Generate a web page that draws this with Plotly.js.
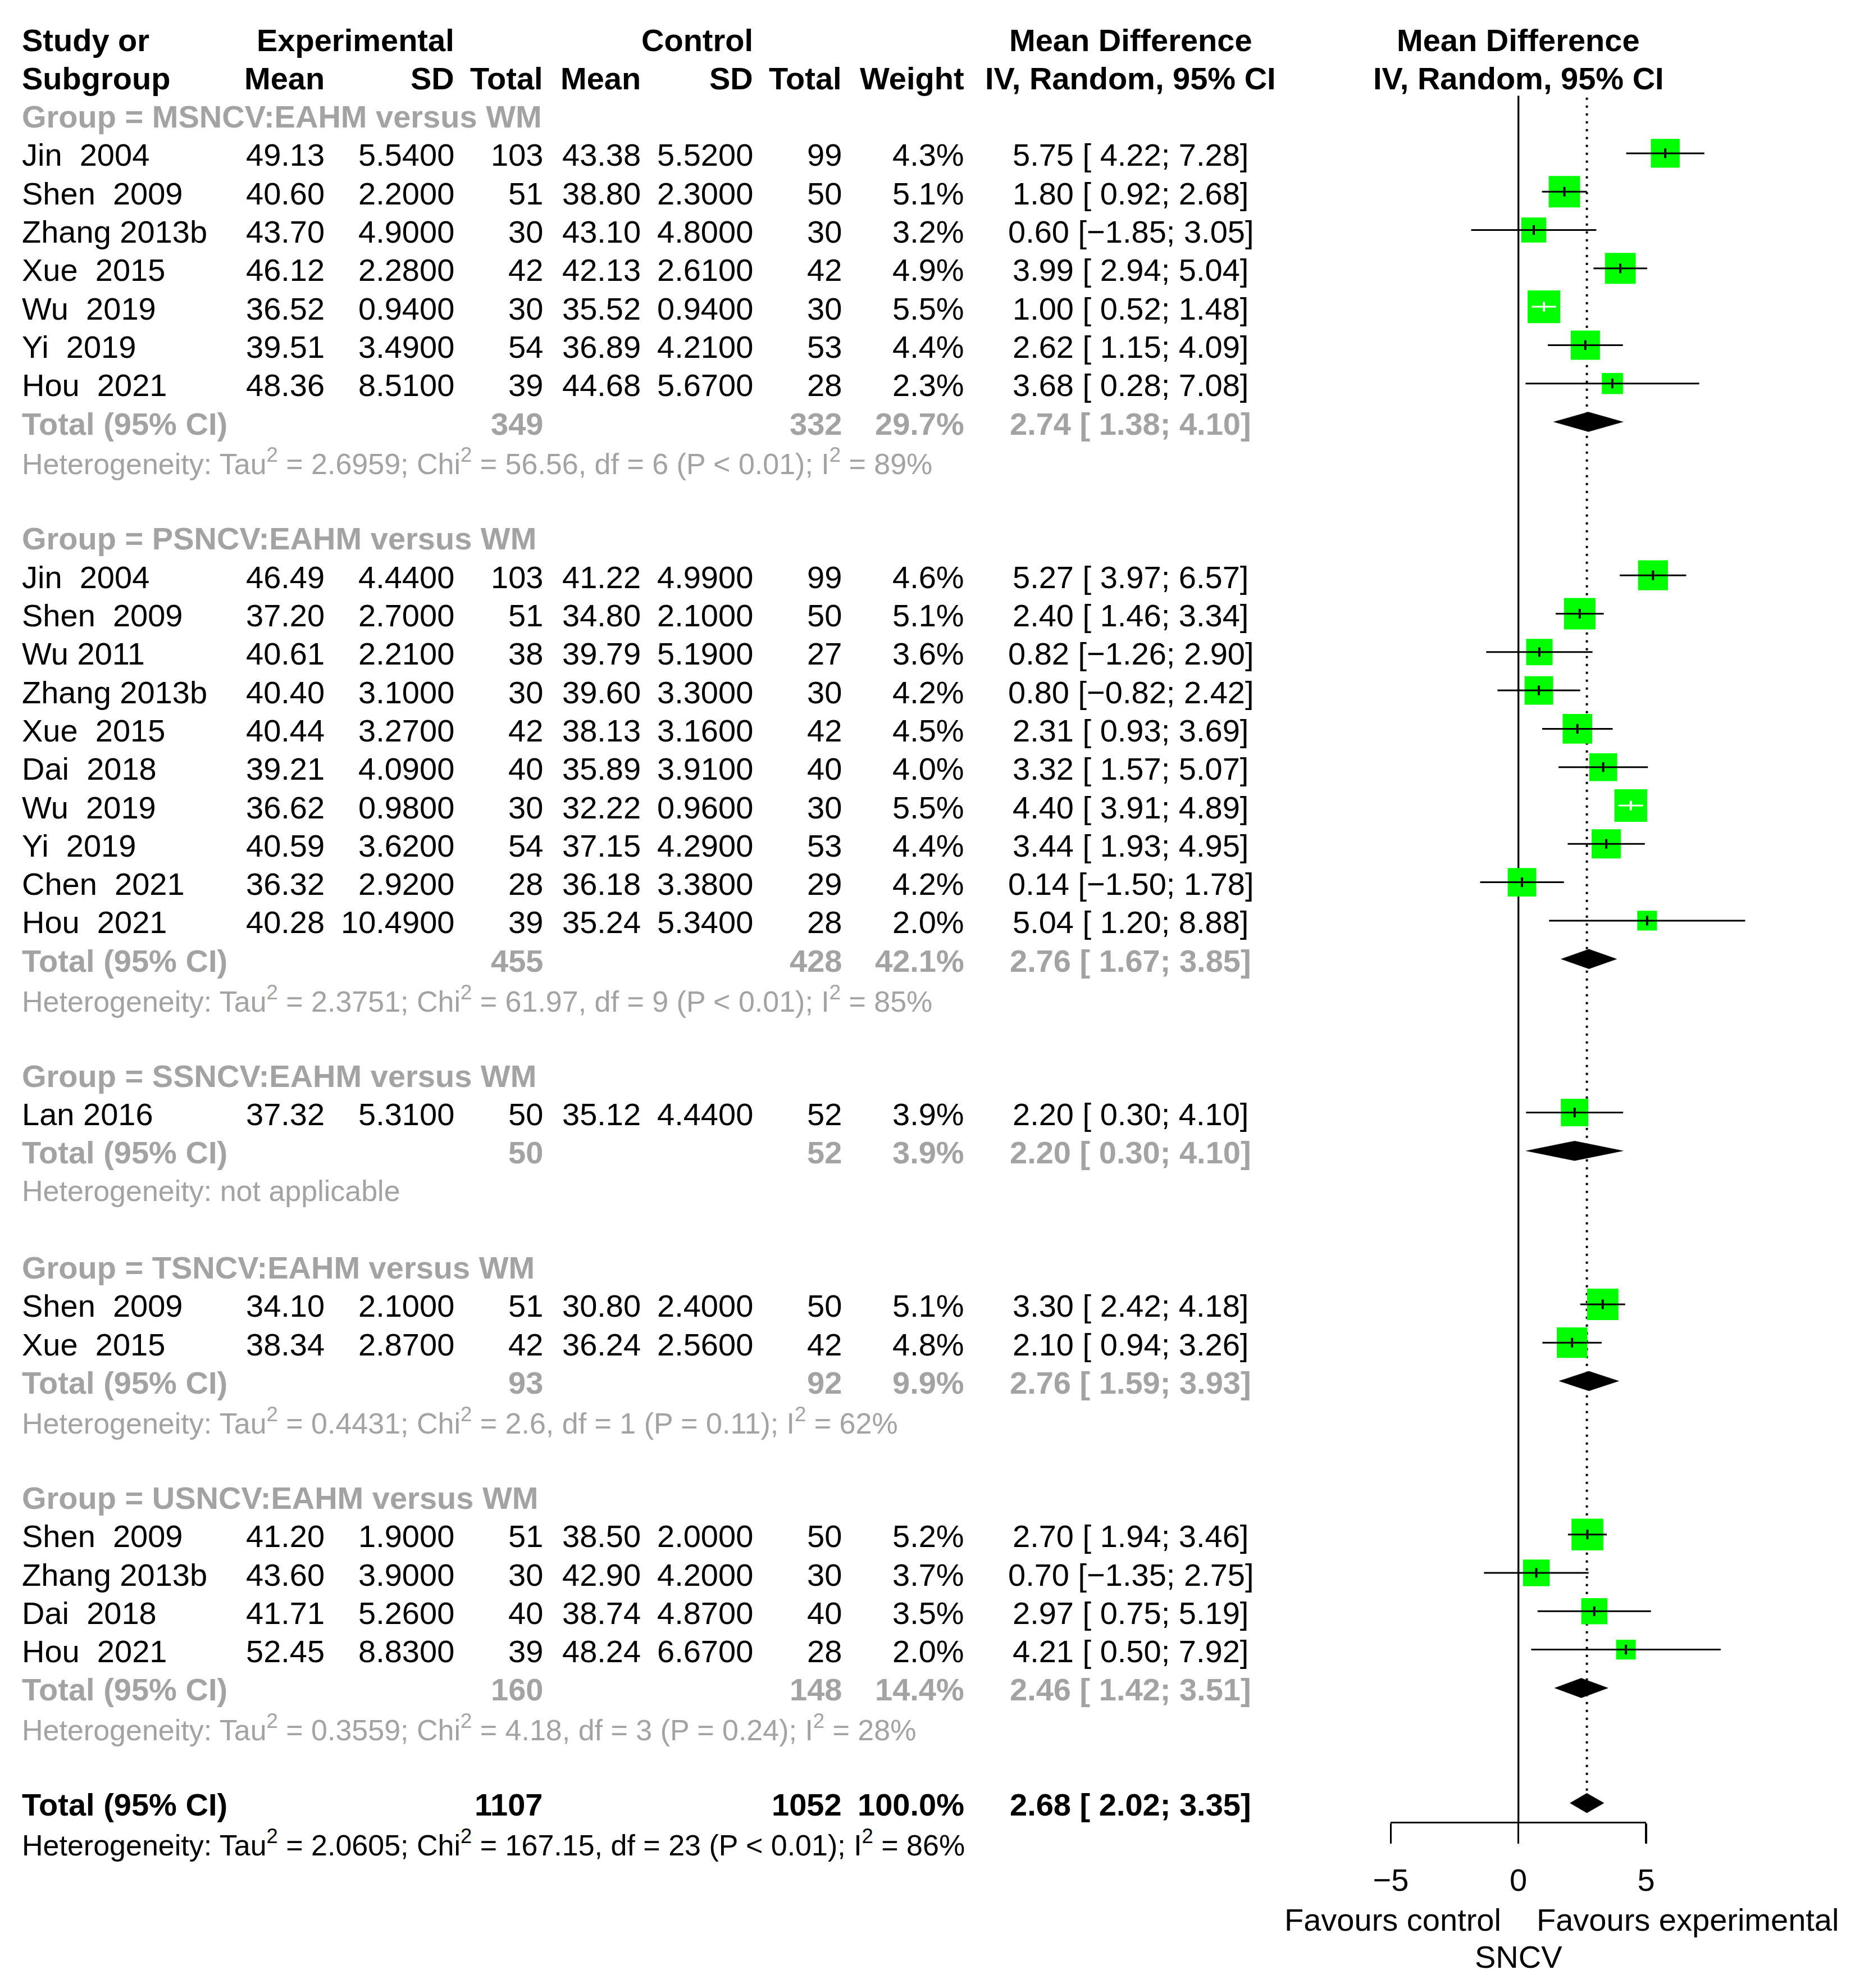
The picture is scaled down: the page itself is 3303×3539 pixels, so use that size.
<!DOCTYPE html>
<html><head><meta charset="utf-8">
<script src="https://cdn.plot.ly/plotly-3.0.1.min.js"></script>
<style>html,body{margin:0;padding:0;background:#fff}</style>
</head><body>
<div id="chart" style="width:3303px;height:3539px"></div>
<script>
// ---------------- DATA ----------------
const groupNames = ["MSNCV:EAHM versus WM", "PSNCV:EAHM versus WM", "SSNCV:EAHM versus WM", "TSNCV:EAHM versus WM", "USNCV:EAHM versus WM"];
const studyGroup = [0,0,0,0,0,0,0, 1,1,1,1,1,1,1,1,1,1, 2, 3,3, 4,4,4,4];
const studyLabels = ["Jin\u00a0 2004","Shen\u00a0 2009","Zhang 2013b","Xue\u00a0 2015","Wu\u00a0 2019","Yi\u00a0 2019","Hou\u00a0 2021",
  "Jin\u00a0 2004","Shen\u00a0 2009","Wu 2011","Zhang 2013b","Xue\u00a0 2015","Dai\u00a0 2018","Wu\u00a0 2019","Yi\u00a0 2019","Chen\u00a0 2021","Hou\u00a0 2021",
  "Lan 2016",
  "Shen\u00a0 2009","Xue\u00a0 2015",
  "Shen\u00a0 2009","Zhang 2013b","Dai\u00a0 2018","Hou\u00a0 2021"];
const expMean = [49.13,40.60,43.70,46.12,36.52,39.51,48.36, 46.49,37.20,40.61,40.40,40.44,39.21,36.62,40.59,36.32,40.28, 37.32, 34.10,38.34, 41.20,43.60,41.71,52.45];
const expSD   = [5.54,2.20,4.90,2.28,0.94,3.49,8.51, 4.44,2.70,2.21,3.10,3.27,4.09,0.98,3.62,2.92,10.49, 5.31, 2.10,2.87, 1.90,3.90,5.26,8.83];
const expN    = [103,51,30,42,30,54,39, 103,51,38,30,42,40,30,54,28,39, 50, 51,42, 51,30,40,39];
const ctlMean = [43.38,38.80,43.10,42.13,35.52,36.89,44.68, 41.22,34.80,39.79,39.60,38.13,35.89,32.22,37.15,36.18,35.24, 35.12, 30.80,36.24, 38.50,42.90,38.74,48.24];
const ctlSD   = [5.52,2.30,4.80,2.61,0.94,4.21,5.67, 4.99,2.10,5.19,3.30,3.16,3.91,0.96,4.29,3.38,5.34, 4.44, 2.40,2.56, 2.00,4.20,4.87,6.67];
const ctlN    = [99,50,30,42,30,53,28, 99,50,27,30,42,40,30,53,29,28, 52, 50,42, 50,30,40,28];
const weight  = [4.3,5.1,3.2,4.9,5.5,4.4,2.3, 4.6,5.1,3.6,4.2,4.5,4.0,5.5,4.4,4.2,2.0, 3.9, 5.1,4.8, 5.2,3.7,3.5,2.0];
const md      = [5.75,1.80,0.60,3.99,1.00,2.62,3.68, 5.27,2.40,0.82,0.80,2.31,3.32,4.40,3.44,0.14,5.04, 2.20, 3.30,2.10, 2.70,0.70,2.97,4.21];
const ciLow   = [4.22,0.92,-1.85,2.94,0.52,1.15,0.28, 3.97,1.46,-1.26,-0.82,0.93,1.57,3.91,1.93,-1.50,1.20, 0.30, 2.42,0.94, 1.94,-1.35,0.75,0.50];
const ciHigh  = [7.28,2.68,3.05,5.04,1.48,4.09,7.08, 6.57,3.34,2.90,2.42,3.69,5.07,4.89,4.95,1.78,8.88, 4.10, 4.18,3.26, 3.46,2.75,5.19,7.92];

const groupExpN   = [349,455,50,93,160];
const groupCtlN   = [332,428,52,92,148];
const groupWeight = [29.7,42.1,3.9,9.9,14.4];
const groupMD     = [2.74,2.76,2.20,2.76,2.46];
const groupLow    = [1.38,1.67,0.30,1.59,1.42];
const groupHigh   = [4.10,3.85,4.10,3.93,3.51];
const groupHet = [
  "Tau<sup>2</sup> = 2.6959; Chi<sup>2</sup> = 56.56, df = 6 (P &lt; 0.01); I<sup>2</sup> = 89%",
  "Tau<sup>2</sup> = 2.3751; Chi<sup>2</sup> = 61.97, df = 9 (P &lt; 0.01); I<sup>2</sup> = 85%",
  "not applicable",
  "Tau<sup>2</sup> = 0.4431; Chi<sup>2</sup> = 2.6, df = 1 (P = 0.11); I<sup>2</sup> = 62%",
  "Tau<sup>2</sup> = 0.3559; Chi<sup>2</sup> = 4.18, df = 3 (P = 0.24); I<sup>2</sup> = 28%"
];
const overallExpN = 1107, overallCtlN = 1052, overallWeight = 100.0;
const overallMD = 2.68, overallLow = 2.02, overallHigh = 3.35;
const overallHet = "Tau<sup>2</sup> = 2.0605; Chi<sup>2</sup> = 167.15, df = 23 (P &lt; 0.01); I<sup>2</sup> = 86%";
const tickValues = [-5, 0, 5];
const tickLabels = ["\u22125", "0", "5"];
const axisLabelLeft = "Favours control", axisLabelRight = "Favours experimental", axisTitle = "SNCV";

// ---------------- GEOMETRY / STYLE ----------------
const W = 3303, H = 3539;
const row0Px = 68, rowPx = 68.3;          // pixel centre of row 0 and row pitch
const zeroPx = 2703.7, unitPx = 45.47;    // forest x scale
const domLeftPx = 1981.8;
const FONT = "Liberation Sans, Arial, sans-serif";
const FS = 56, FS_HET = 52;
const GRAY = "#a3a3a3";
const GREEN = "#00ff00";
const TXT_SHIFT = -3;

const cols = {label: 38, eMean: 579, eSD: 810, eN: 968, cMean: 1142, cSD: 1342, cN: 1500, w: 1718, md: 2013};

function fmtNum(v) { return v < 0 ? "\u2212" + Math.abs(v).toFixed(2) : v.toFixed(2); }
function fmtCI(lo, hi) {
  const padLo = lo < 0 ? fmtNum(lo) : "\u00a0" + fmtNum(lo);
  return "[" + padLo + "; " + fmtNum(hi) + "]";
}
function fmtMD(m, lo, hi) { return fmtNum(m) + " " + fmtCI(lo, hi); }

const annotations = [];
function ann(text, px, row, anchor, opt) {
  opt = opt || {};
  annotations.push({
    text: text, xref: "paper", yref: "y", x: px / W, y: row,
    xanchor: anchor, yanchor: "middle", showarrow: false, yshift: (opt.yshift !== undefined ? opt.yshift : TXT_SHIFT),
    font: {family: FONT, size: opt.size || FS, color: opt.color || "#000", weight: opt.bold ? 700 : 400},
    borderpad: 0
  });
}
function b(t) { return "<b>" + t + "</b>"; }

// headers
ann(b("Study or"), cols.label, 0, "left");
ann(b("Subgroup"), cols.label, 1, "left");
ann(b("Experimental"), cols.eSD, 0, "right");
ann(b("Mean"), cols.eMean, 1, "right");
ann(b("SD"), cols.eSD, 1, "right");
ann(b("Total"), cols.eN, 1, "right");
ann(b("Control"), cols.cSD, 0, "right");
ann(b("Mean"), cols.cMean, 1, "right");
ann(b("SD"), cols.cSD, 1, "right");
ann(b("Total"), cols.cN, 1, "right");
ann(b("Weight"), cols.w, 1, "right");
ann(b("Mean Difference"), cols.md, 0, "center");
ann(b("IV, Random, 95% CI"), cols.md, 1, "center");
ann(b("Mean Difference"), zeroPx, 0, "center");
ann(b("IV, Random, 95% CI"), zeroPx, 1, "center");

// rows
const studyRow = [], totalRow = [];
let r = 2;
for (let g = 0; g < groupNames.length; g++) {
  ann(b("Group = " + groupNames[g]), cols.label, r, "left", {color: GRAY});
  r++;
  for (let i = 0; i < studyLabels.length; i++) {
    if (studyGroup[i] !== g) continue;
    studyRow[i] = r;
    ann(studyLabels[i], cols.label, r, "left");
    ann(expMean[i].toFixed(2), cols.eMean, r, "right");
    ann(expSD[i].toFixed(4), cols.eSD, r, "right");
    ann(String(expN[i]), cols.eN, r, "right");
    ann(ctlMean[i].toFixed(2), cols.cMean, r, "right");
    ann(ctlSD[i].toFixed(4), cols.cSD, r, "right");
    ann(String(ctlN[i]), cols.cN, r, "right");
    ann(weight[i].toFixed(1) + "%", cols.w, r, "right");
    ann(fmtMD(md[i], ciLow[i], ciHigh[i]), cols.md, r, "center");
    r++;
  }
  totalRow[g] = r;
  ann(b("Total (95% CI)"), cols.label, r, "left", {color: GRAY});
  ann(b(String(groupExpN[g])), cols.eN, r, "right", {color: GRAY});
  ann(b(String(groupCtlN[g])), cols.cN, r, "right", {color: GRAY});
  ann(b(groupWeight[g].toFixed(1) + "%"), cols.w, r, "right", {color: GRAY});
  ann(b(fmtMD(groupMD[g], groupLow[g], groupHigh[g])), cols.md, r, "center", {color: GRAY});
  r++;
  ann("Heterogeneity: " + groupHet[g], cols.label, r, "left", {color: GRAY, size: FS_HET});
  r += 2;
}
const overallRow = r;
ann(b("Total (95% CI)"), cols.label, r, "left");
ann(b(String(overallExpN)), cols.eN, r, "right");
ann(b(String(overallCtlN)), cols.cN, r, "right");
ann(b(overallWeight.toFixed(1) + "%"), cols.w, r, "right");
ann(b(fmtMD(overallMD, overallLow, overallHigh)), cols.md, r, "center");
ann("Heterogeneity: " + overallHet, cols.label, r + 1, "left", {size: FS_HET});

const axisRow = overallRow + 0.5;
const pxToRow = px => (px - row0Px) / rowPx;
ann(axisLabelLeft, zeroPx - 30, pxToRow(3417), "right", {yshift: 0});
ann(axisLabelRight, zeroPx + 31, pxToRow(3417), "left", {yshift: 0});
ann(axisTitle, zeroPx, pxToRow(3483), "center", {yshift: 0});

// ---------------- MARKS ----------------
const sqPx = 24.8;               // square side per sqrt(weight), px
const tickHalfRows = 8.5 / rowPx;
const diaHalfRows = 17.5 / rowPx;

const sqX = [], sqY = [];
const ciBX = [], ciBY = [], ciWX = [], ciWY = [];
const tkBX = [], tkBY = [], tkWX = [], tkWY = [];
for (let i = 0; i < md.length; i++) {
  const y = studyRow[i];
  const side = sqPx * Math.sqrt(weight[i]);
  const hx = side / 2 / unitPx, hy = side / 2 / rowPx;
  sqX.push(md[i] - hx, md[i] + hx, md[i] + hx, md[i] - hx, md[i] - hx, null);
  sqY.push(y - hy, y - hy, y + hy, y + hy, y - hy, null);
  const inside = (md[i] - ciLow[i] < hx) && (ciHigh[i] - md[i] < hx);
  const cx = inside ? ciWX : ciBX, cy = inside ? ciWY : ciBY;
  cx.push(ciLow[i], ciHigh[i], null); cy.push(y, y, null);
  const tx = inside ? tkWX : tkBX, ty = inside ? tkWY : tkBY;
  tx.push(md[i], md[i], null); ty.push(y - tickHalfRows, y + tickHalfRows, null);
}
const dX = [], dY = [];
function diamond(m, lo, hi, y) {
  dX.push(lo, m, hi, m, lo, null);
  dY.push(y, y - diaHalfRows, y, y + diaHalfRows, y, null);
}
for (let g = 0; g < groupNames.length; g++) diamond(groupMD[g], groupLow[g], groupHigh[g], totalRow[g]);
diamond(overallMD, overallLow, overallHigh, overallRow);

const traces = [
  {x: [0, 0], y: [1.5, axisRow], mode: "lines", line: {color: "#000", width: 3.3}, hoverinfo: "skip"},
  {x: [overallMD, overallMD], y: [1.55, overallRow - diaHalfRows], mode: "lines", line: {color: "#000", width: 4, dash: "4px,10px"}, hoverinfo: "skip"},
  {x: sqX, y: sqY, mode: "lines", fill: "toself", fillcolor: GREEN, line: {width: 0, color: GREEN}, hoverinfo: "skip"},
  {x: ciBX, y: ciBY, mode: "lines", line: {color: "#000", width: 3}, hoverinfo: "skip"},
  {x: ciWX, y: ciWY, mode: "lines", line: {color: "#fff", width: 3}, hoverinfo: "skip"},
  {x: tkBX, y: tkBY, mode: "lines", line: {color: "#000", width: 4}, hoverinfo: "skip"},
  {x: tkWX, y: tkWY, mode: "lines", line: {color: "#fff", width: 4}, hoverinfo: "skip"},
  {x: dX, y: dY, mode: "lines", fill: "toself", fillcolor: "#000", line: {width: 0.5, color: "#000"}, hoverinfo: "skip"},
  // carrier for the tick axis
  {x: [tickValues[0]], y: [null], xaxis: "x2", yaxis: "y", mode: "markers", marker: {opacity: 0}, hoverinfo: "skip"}
];

const rangeLeft = (domLeftPx - zeroPx) / unitPx;
const rangeRight = (W - zeroPx) / unitPx;
const axLeftPx = zeroPx + tickValues[0] * unitPx;
const axRightPx = zeroPx + tickValues[tickValues.length - 1] * unitPx;

const layout = {
  width: W, height: H,
  margin: {l: 0, r: 0, t: 0, b: 0, pad: 0},
  paper_bgcolor: "#fff", plot_bgcolor: "rgba(0,0,0,0)",
  showlegend: false,
  xaxis: {domain: [domLeftPx / W, 1], range: [rangeLeft, rangeRight], visible: false, fixedrange: true},
  yaxis: {domain: [0, 1], range: [(H - row0Px) / rowPx, -row0Px / rowPx], visible: false, fixedrange: true},
  xaxis2: {
    domain: [axLeftPx / W, axRightPx / W], range: [tickValues[0], tickValues[tickValues.length - 1]],
    anchor: "free", position: 1 - (row0Px + axisRow * rowPx) / H,
    showline: true, linecolor: "#000", linewidth: 3.3,
    ticks: "outside", ticklen: 36, tickwidth: 3.3, tickcolor: "#000",
    tickmode: "array", tickvals: tickValues, ticktext: tickLabels,
    tickfont: {family: FONT, size: FS, color: "#000"}, ticklabelstandoff: 17,
    showgrid: false, zeroline: false, fixedrange: true
  },
  annotations: annotations
};

Plotly.newPlot("chart", traces, layout, {displayModeBar: false, staticPlot: true});
</script>
</body></html>
